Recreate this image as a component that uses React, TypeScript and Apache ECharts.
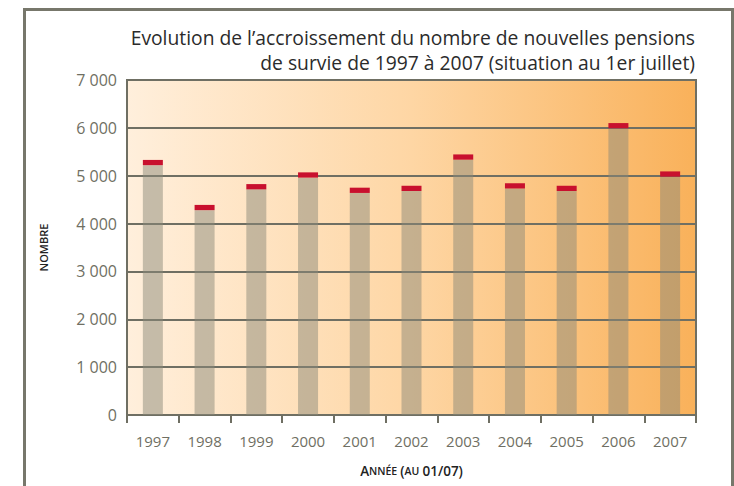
import React, { useEffect, useRef } from "react";
import * as echarts from "echarts";

const years = ["1997", "1998", "1999", "2000", "2001", "2002", "2003", "2004", "2005", "2006", "2007"];
const baseValues = [5220, 4280, 4715, 4960, 4640, 4680, 5335, 4735, 4680, 5990, 4980];
const capValues = [110, 110, 110, 110, 110, 110, 110, 110, 110, 110, 110];
const yTicks = [0, 1000, 2000, 3000, 4000, 5000, 6000, 7000];

const titleLines = [
  "Evolution de l\u2019accroissement du nombre de nouvelles pensions",
  "de survie de 1997 \u00e0 2007 (situation au 1er juillet)",
];

const FONT = "'Open Sans', 'Noto Sans', sans-serif";
const GREY = "#6f6f63";

export default function App() {
  const ref = useRef<HTMLDivElement>(null);
  useEffect(() => {
    if (!ref.current) return;
    const chart = echarts.init(ref.current, undefined, { renderer: "svg" });
    chart.setOption({
      animation: false,
      backgroundColor: "#ffffff",
      textStyle: { fontFamily: FONT },
      graphic: [
        {
          type: "rect",
          z: -10,
          shape: { x: 24.5, y: 9.5, width: 708, height: 520 },
          style: { fill: "#ffffff", stroke: "#77776b", lineWidth: 3 },
        },
        {
          type: "text",
          x: 695,
          y: 37,
          style: {
            text: titleLines[0],
            align: "right",
            verticalAlign: "middle",
            fontSize: 19.3,
            fontFamily: FONT,
            fill: "#2b2b2b",
          },
        },
        {
          type: "text",
          x: 695,
          y: 62,
          style: {
            text: titleLines[1],
            align: "right",
            verticalAlign: "middle",
            fontSize: 19.3,
            fontFamily: FONT,
            fill: "#2b2b2b",
          },
        },
      ],
      grid: {
        left: 127,
        right: 38,
        top: 80,
        bottom: 71,
        show: true,
        borderWidth: 2,
        borderColor: GREY,
        backgroundColor: new echarts.graphic.LinearGradient(0, 0, 1, 0, [
          { offset: 0, color: "#ffefdc" },
          { offset: 0.5, color: "#fed6a4" },
          { offset: 1, color: "#f9b15a" },
        ]),
      },
      xAxis: {
        type: "category",
        data: years,
        axisLine: { lineStyle: { color: GREY, width: 2 } },
        axisTick: { show: true, length: 8, lineStyle: { color: GREY, width: 2 } },
        axisLabel: { color: GREY, fontSize: 15, margin: 18, fontFamily: FONT },
        name: "{b|A}{s|NNÉE} {b|(}{s|AU} {b|01/07)}",
        nameLocation: "middle",
        nameGap: 49,
        nameTextStyle: {
          rich: {
            b: { fontSize: 13.5, fontWeight: 600, color: "#222", fontFamily: FONT },
            s: { fontSize: 10.5, fontWeight: 600, color: "#222", fontFamily: FONT },
          },
        },
      },
      yAxis: {
        type: "value",
        min: yTicks[0],
        max: yTicks[yTicks.length - 1],
        interval: 1000,
        axisLine: { show: true, lineStyle: { color: GREY, width: 2 } },
        axisTick: { show: false },
        splitLine: { show: true, lineStyle: { color: GREY, width: 2 } },
        axisLabel: {
          color: GREY,
          fontSize: 16,
          margin: 10,
          fontFamily: FONT,
          formatter: (v: number) => (v >= 1000 ? `${Math.floor(v / 1000)} ${String(v % 1000).padStart(3, "0")}` : String(v)),
        },
        name: "NOMBRE",
        nameLocation: "middle",
        nameGap: 78,
        nameRotate: 90,
        nameTextStyle: { fontSize: 11, fontWeight: 600, color: "#222", fontFamily: FONT },
      },
      series: [
        {
          type: "bar",
          stack: "t",
          data: baseValues,
          barWidth: 20,
          itemStyle: { color: "rgba(139,137,122,0.5)" },
          z: 3,
        },
        {
          type: "bar",
          stack: "t",
          data: capValues,
          barWidth: 20,
          itemStyle: { color: "#c8102e" },
          z: 3,
        },
      ],
    });
    return () => chart.dispose();
  }, []);
  return <div ref={ref} style={{ position: "fixed", left: 0, top: 0, width: 734, height: 486 }} />;
}
